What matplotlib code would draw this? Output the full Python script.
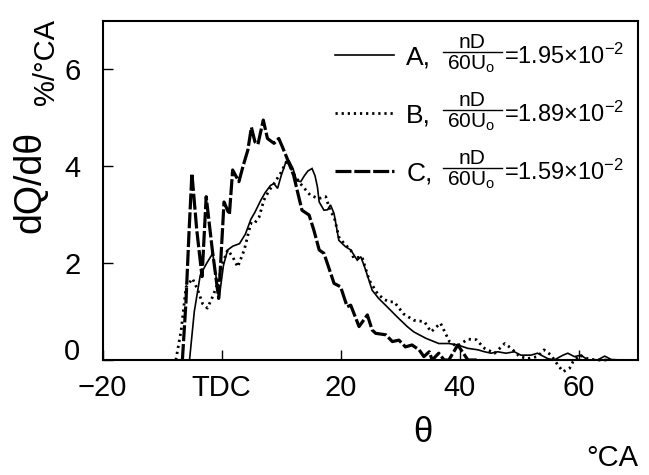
import matplotlib
matplotlib.use("Agg")
import matplotlib.pyplot as plt
from matplotlib.lines import Line2D

plt.rcParams['font.family'] = ['Liberation Sans', 'DejaVu Sans']
plt.rcParams['mathtext.fontset'] = 'custom'
plt.rcParams['mathtext.rm'] = 'Liberation Sans'
plt.rcParams['mathtext.it'] = 'Liberation Sans'
plt.rcParams['mathtext.bf'] = 'Liberation Sans:bold'

# ---------------- data ----------------
theta_A = [-5.4, -4.6, -3.6, -2.5, -1.5, -0.8, -0.4, 0.3, 1.0, 1.9, 3.0,
           4.0, 4.9, 5.6, 6.6, 7.3, 8.2, 8.8, 9.4, 10.0, 10.7,
           11.3, 12.0, 12.6, 13.3, 13.9, 14.5, 15.2, 15.7, 16.1, 16.4,
           17.2, 17.8, 18.3, 18.9, 19.7, 20.8, 21.7, 22.8, 23.4, 24.2,
           25.3, 26.4, 27.8, 29.5, 31.2, 32.3, 34.3, 36.5, 38.2, 39.7,
           41.4, 43.1, 44.2, 45.3, 46.4, 47.8, 49.2, 50.3, 52.0, 53.1,
           54.8, 55.9, 57.4, 58.2, 59.3, 60.4, 61.6, 63.2, 64.4, 65.5,
           67.2, 70.0]
dq_A = [0, 1.0, 1.75, 2.0, 2.2, 1.6, 1.3, 1.95, 2.27, 2.35, 2.4,
        2.6, 2.9, 3.05, 3.3, 3.45, 3.6, 3.64, 3.54, 3.8, 4.05,
        4.12, 3.95, 3.7, 3.68, 3.8, 3.9, 3.95, 3.8, 3.57, 3.26,
        3.09, 3.1, 3.2, 3.02, 2.47, 2.34, 2.27, 2.06, 2.13, 1.86,
        1.44, 1.27, 1.1, 0.89, 0.69, 0.58, 0.45, 0.34, 0.34, 0.31,
        0.24, 0.21, 0.17, 0.14, 0.17, 0.14, 0.17, 0.10, 0.10, 0.14,
        0.03, 0.0, 0.10, 0.14, 0.07, 0.10, 0.0, 0.0, 0.08, 0.01,
        0.0, 0.0]

theta_B = [-7.7, -6.8, -6.0, -4.9, -4.0, -3.2, -2.4, -1.5, -0.67, 0.16,
           1.0, 1.85, 2.7, 3.8, 4.9, 5.4, 6.3, 7.1, 8.0, 8.8,
           9.9, 11.0, 11.5, 12.3, 13.5, 14.9, 16.3, 17.5, 18.3, 18.9,
           19.7, 20.6, 21.7, 22.2, 23.6, 24.8, 26.2, 27.3, 28.2, 29.0,
           30.6, 32.3, 34.1, 35.2, 36.8, 38.3, 39.5, 41.4, 42.8, 44.2,
           45.9, 47.6, 48.7, 50.1, 51.5, 53.1, 54.2, 55.4, 56.5, 57.4,
           58.5, 59.1, 60.2, 61.5, 63.0, 65.0]
dq_B = [0, 0.62, 1.5, 1.68, 1.44, 1.16, 1.07, 1.31, 1.58, 1.99,
        2.27, 2.13, 1.92, 2.27, 2.82, 2.8, 2.95, 3.3, 3.5, 3.64,
        3.85, 4.12, 4.0, 3.8, 3.6, 3.4, 3.33, 3.37, 3.06, 2.96,
        2.54, 2.4, 2.27, 2.1, 2.13, 1.65, 1.37, 1.25, 1.2, 1.2,
        0.95, 0.82, 0.79, 0.58, 0.76, 0.38, 0.28, 0.43, 0.42, 0.24,
        0.14, 0.34, 0.24, 0.07, 0.03, 0.07, 0.21, 0.10, -0.1, -0.24,
        -0.17, -0.03, 0.10, 0.03, 0.0, 0.0]

theta_C = [-6.6, -6.0, -5.5, -5.0, -4.2, -3.3, -2.6, -1.6, -0.5, 0.4,
           1.3, 1.85, 2.9, 3.6, 4.4, 5.0, 5.6, 6.1, 7.0,
           7.7, 8.8, 9.6, 10.2, 11.0, 12.1, 12.7, 13.5, 14.7, 15.5,
           16.4, 17.2, 18.9, 20.0, 21.1, 21.7, 23.1, 24.5, 25.3, 25.9,
           27.6, 28.7, 29.8, 30.9, 32.0, 33.2, 34.0, 34.9, 35.4, 36.5,
           37.4, 38.2, 39.7, 41.4, 43.0]
dq_C = [0, 1.2, 2.6, 3.85, 2.7, 1.72, 3.37, 2.3, 1.27, 3.26,
        3.0, 3.92, 3.68, 4.0, 4.33, 4.8, 4.5, 4.45, 4.95,
        4.57, 4.47, 4.57, 4.4, 4.16, 3.81, 3.5, 3.09, 2.99, 2.68,
        2.27, 2.2, 1.58, 1.51, 1.1, 1.13, 0.69, 0.93, 0.62, 0.55,
        0.52, 0.38, 0.41, 0.27, 0.31, 0.21, 0.07, 0.17, 0.0, 0.14,
        0.0, 0.0, 0.31, 0.0, 0.0]

series_names = ['A,', 'B,', 'C,']
series_values = ['=1.95×10$^{-2}$', '=1.89×10$^{-2}$', '=1.59×10$^{-2}$']
x_ticks = [-20, 0, 20, 40, 60]
x_tick_labels = ['\u221220', 'TDC', '20', '40', '60']
y_ticks = [0, 2, 4, 6]
y_tick_labels = ['0', '2', '4', '6']

# ---------------- figure ----------------
W, H = 649, 475
fig = plt.figure(figsize=(W / 100, H / 100), dpi=100)
def X(px): return px / W
def Y(py): return 1 - py / H

ax = fig.add_axes([X(102.7), Y(360), X(638) - X(102.7), Y(20.7) - Y(360)])

lA, = ax.plot(theta_A, dq_A, color='black', lw=1.2, solid_joinstyle='miter')
lB, = ax.plot(theta_B, dq_B, color='black', lw=2.0, linestyle=(0, (0.8, 1.4)),
              clip_on=False)
lC, = ax.plot(theta_C, dq_C, color='black', lw=2.3, linestyle=(0, (5, 0.9)))

ax.set_xlim(-20, 70)
ax.set_ylim(0, 7)
ax.set_xticks(x_ticks)
ax.set_xticklabels(x_tick_labels)
ax.set_yticks(y_ticks)
ax.set_yticklabels(y_tick_labels)
ax.tick_params(axis='both', direction='in', length=7, width=1.0,
               labelsize=21, colors='black')
ax.tick_params(axis='x', pad=10)
ax.tick_params(axis='y', pad=16)
ax.get_yticklabels()[0].set_verticalalignment('baseline')
for s in ax.spines.values():
    s.set_linewidth(1.5)

# legend (line samples + series letters)
leg = ax.legend([lA, lB, lC], series_names, loc='upper left',
                bbox_to_anchor=(X(335), Y(45)), bbox_transform=fig.transFigure,
                frameon=False, fontsize=19, handlelength=2.25,
                handletextpad=0.45, labelspacing=1.3, borderpad=0,
                borderaxespad=0)

# fraction nD/60U0 and values for each legend row
rows = [55, 113, 171]
for r, val in zip(rows, series_values):
    fig.text(X(472), Y(r - 13), 'nD', fontsize=15, ha='center', va='center')
    fig.add_artist(Line2D([X(443), X(502)], [Y(r - 3), Y(r - 3)],
                          color='black', lw=1.0))
    fig.text(X(471), Y(r + 9), r'60U$_\mathrm{o}$', fontsize=15,
             ha='center', va='center')
    fig.text(X(504), Y(r + 1), val, fontsize=17, ha='left', va='center')

# axis labels
fig.text(X(30), Y(182), 'dQ/dθ', rotation=90, fontsize=27,
         ha='center', va='center')
fig.text(X(46), Y(62), '%/°CA', rotation=90, fontsize=21,
         ha='center', va='center')
fig.text(X(423), Y(432), 'θ', fontsize=25, ha='center', va='center')
fig.text(X(612), Y(458), '°CA', fontsize=21, ha='center', va='center')

fig.savefig('out.png', dpi=100)
